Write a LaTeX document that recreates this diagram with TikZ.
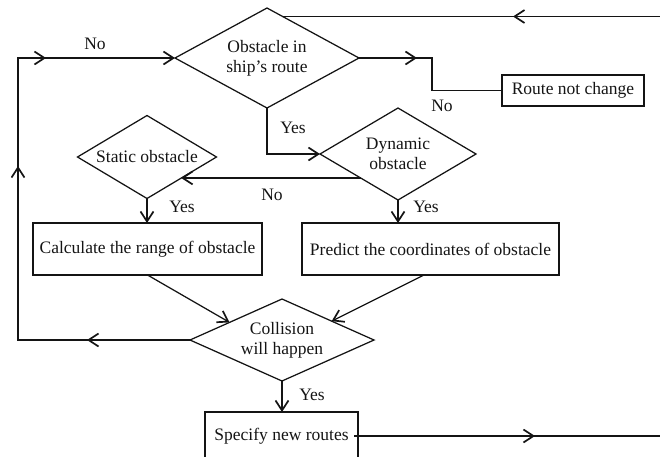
\documentclass[tikz,border=0pt]{standalone}
\usepackage{fontspec}
\setmainfont{Liberation Serif}
\usetikzlibrary{shapes.geometric,arrows.meta,calc,decorations.markings}

\begin{document}
\begin{tikzpicture}[x=1pt,y=-1pt,
  font=\fontsize{17.5}{20}\selectfont,
  line width=1.25pt,
  color={black!92},
  >={Straight Barb[length=10pt,width=13pt,line width=1.7pt]},
  every node/.style={outer sep=0pt},
  decision/.style={draw, diamond, aspect=1.8, inner sep=0pt, align=center},
  stepbox/.style={draw, rectangle, inner sep=0pt, align=center},
  arrowat/.style={postaction={decorate,decoration={markings,
      mark=at position #1 with {\arrow{>}}}}},
  lbl/.style={inner sep=0pt}]

\useasboundingbox (0,0) rectangle (660,456);

% decisions and process steps
\node[decision, minimum width=184pt, minimum height=100pt] (route) at (267,58) {Obstacle in\\ship's route};
\node[stepbox, minimum width=142pt, minimum height=31pt] (keep) at (573,90.5) {Route not change};
\node[decision, minimum width=139pt, minimum height=83pt] (static) at (147,157) {Static obstacle};
\node[decision, minimum width=156pt, minimum height=92pt] (dyn) at (398,154) {Dynamic\\obstacle};
\node[stepbox, minimum width=229pt, minimum height=52pt] (range) at (147.5,249) {Calculate the range of obstacle};
\node[stepbox, minimum width=257pt, minimum height=52pt] (predict) at (430.5,249) {Predict the coordinates of obstacle};
\node[decision, minimum width=184pt, minimum height=82pt] (collide) at (282,340) {Collision\\will happen};
\node[stepbox, minimum width=153pt, minimum height=48pt] (newroute) at (281.5,436) {Specify new routes};

% helper coordinates
\coordinate (rightedge) at (660,0);
\coordinate (loopx) at (18,0);
\path ($(route.north)!0.17!(route.east)$) coordinate (entry);
\path ($(dyn.west)!0.52!(dyn.south)$) coordinate (nofrom);
\path ($(static.east)!0.51!(static.south)$) coordinate (noto);

% incoming route from the right
\draw[arrowat=147pt] (entry -| rightedge) -- (entry);

% loop back when no collision
\draw[->, arrowat=103pt, arrowat=346pt, arrowat=482pt]
  (collide.west) -- (collide.west -| loopx) -- (route.west -| loopx) -- (route.west);

% no obstacle
\draw[arrowat=58pt] (route.east) -- ++(73,0) |- (keep.west);

% obstacle present
\draw[->] (route.south) |- (dyn.west);
\draw[->] (nofrom) -- (nofrom -| noto);
\draw[->] (static.south) -- (static.south |- range.north);
\draw[->] (dyn.south) -- (dyn.south |- predict.north);
\draw[->] (range.south) -- ($(collide.west)!0.43!(collide.north)$);
\draw[->] ($(predict.south west)!0.475!(predict.south east)$) -- ($(collide.north)!0.54!(collide.east)$);
\draw[->] (collide.south) -- (collide.south |- newroute.north);

% outgoing new route
\draw[arrowat=181pt] ([xshift=-4pt]newroute.east) -- (newroute.east -| rightedge);

% branch labels
\node[lbl] (lno1) at (95,44) {No};
\node[lbl] (lno2) at (442,106) {No};
\node[lbl] (lyes1) at (293,128) {Yes};
\node[lbl] (lno3) at (272,195) {No};
\node[lbl] (lyes2) at (182,207) {Yes};
\node[lbl] (lyes3) at (426,207) {Yes};
\node[lbl] (lyes4) at (312,395) {Yes};

\end{tikzpicture}
\end{document}
